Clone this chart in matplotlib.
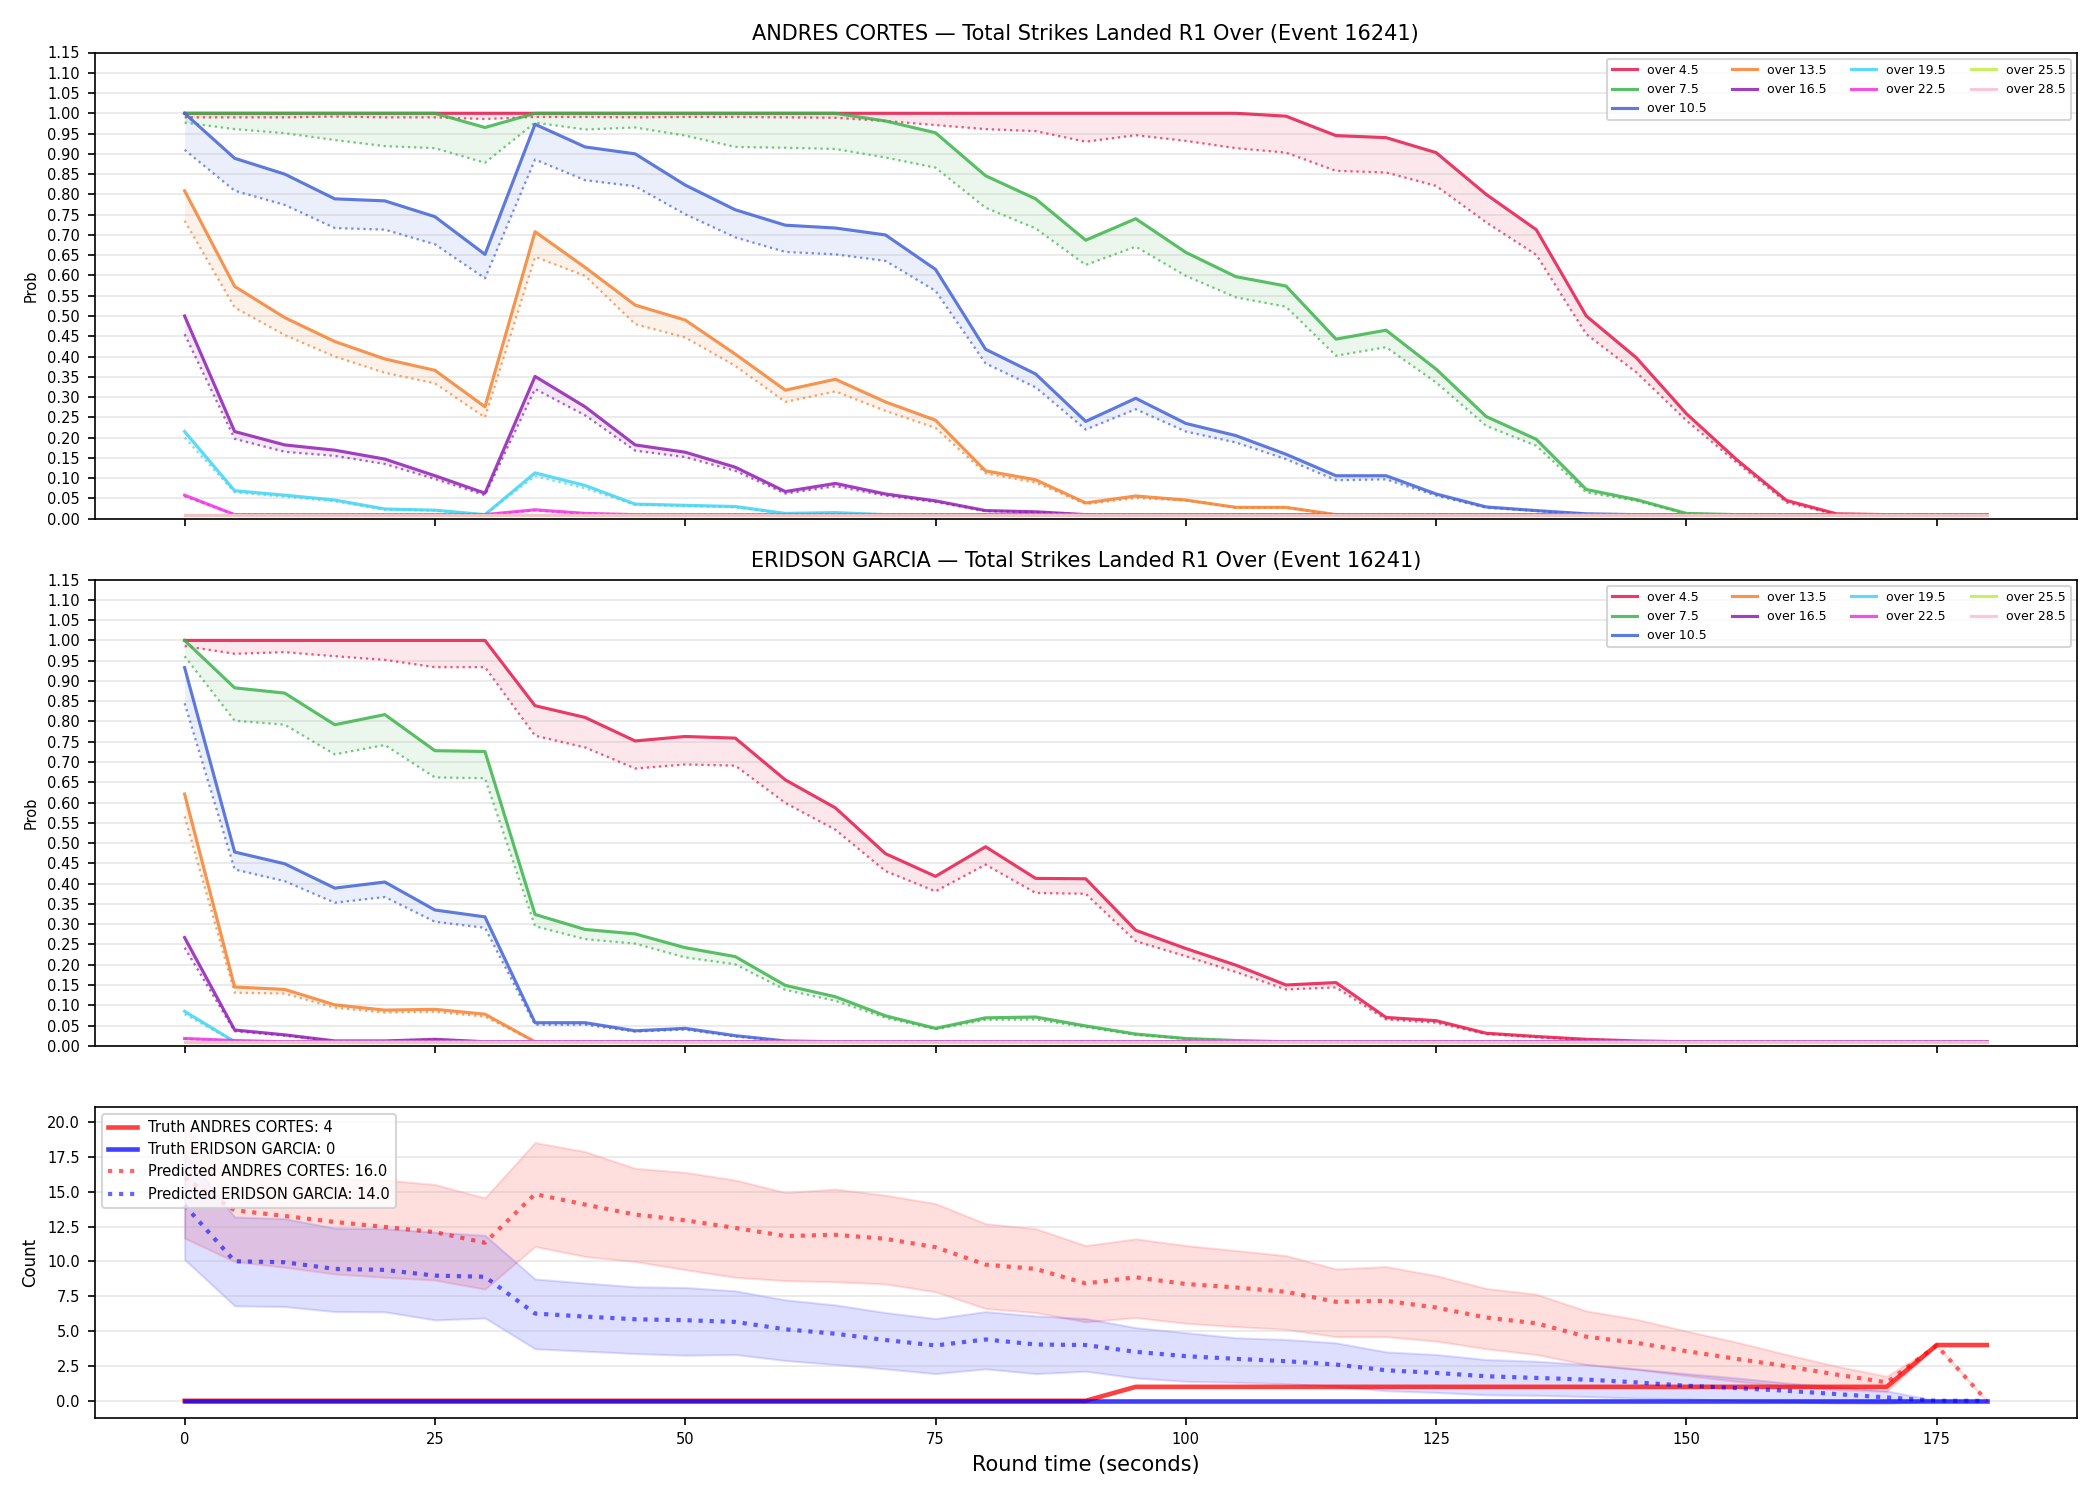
import matplotlib
matplotlib.use("Agg")
import matplotlib.pyplot as plt
import numpy as np

t = list(range(0, 185, 5))

lines = ["over 4.5", "over 7.5", "over 10.5", "over 13.5", "over 16.5",
         "over 19.5", "over 22.5", "over 25.5", "over 28.5"]
colors = ["#e6194b", "#3cb44b", "#4363d8", "#f58231", "#911eb4",
          "#42d4f4", "#f032e6", "#bfef45", "#fabed4"]

# ANDRES CORTES - market (solid) and model (dotted)
a_mkt = {
    "over 4.5": [1.0] * 22 + [0.993, 0.945, 0.94, 0.903, 0.80, 0.713, 0.50, 0.397, 0.259, 0.146, 0.045, 0.012, 0.01, 0.01, 0.01],
    "over 7.5": [1.0] * 6 + [0.965] + [1.0] * 7 + [0.981, 0.952, 0.846, 0.789, 0.687, 0.74, 0.657, 0.597, 0.574, 0.443, 0.465, 0.369, 0.252, 0.196, 0.072, 0.047, 0.013] + [0.01] * 6,
    "over 10.5": [1.0, 0.889, 0.85, 0.789, 0.784, 0.745, 0.652, 0.973, 0.917, 0.90, 0.823, 0.762, 0.724, 0.717, 0.70, 0.615, 0.418, 0.357, 0.24, 0.297, 0.235, 0.205, 0.159, 0.106, 0.106, 0.061, 0.029, 0.02, 0.012] + [0.01] * 8,
    "over 13.5": [0.809, 0.573, 0.496, 0.437, 0.394, 0.366, 0.276, 0.708, 0.62, 0.527, 0.49, 0.406, 0.317, 0.344, 0.288, 0.243, 0.118, 0.096, 0.039, 0.056, 0.046, 0.028, 0.028] + [0.01] * 14,
    "over 16.5": [0.50, 0.215, 0.182, 0.169, 0.147, 0.106, 0.063, 0.351, 0.276, 0.182, 0.164, 0.127, 0.067, 0.087, 0.061, 0.044, 0.02, 0.017] + [0.01] * 19,
    "over 19.5": [0.215, 0.069, 0.058, 0.046, 0.024, 0.021, 0.01, 0.113, 0.082, 0.036, 0.033, 0.03, 0.013, 0.015] + [0.01] * 23,
    "over 22.5": [0.058, 0.01, 0.01, 0.01, 0.01, 0.01, 0.01, 0.022, 0.013] + [0.01] * 28,
    "over 25.5": [0.01] * 37,
    "over 28.5": [0.01] * 37,
}
a_mod = {
    "over 4.5": [0.99, 0.99, 0.99, 0.992, 0.99, 0.99, 0.986, 0.991, 0.991, 0.99, 0.991, 0.991, 0.99, 0.989, 0.981, 0.971, 0.961, 0.956, 0.93, 0.946, 0.932, 0.914, 0.903, 0.858, 0.854, 0.821, 0.731, 0.651, 0.455, 0.361, 0.242, 0.139, 0.04, 0.01, 0.01, 0.01, 0.01],
    "over 7.5": [0.977, 0.961, 0.951, 0.934, 0.919, 0.914, 0.878, 0.977, 0.96, 0.965, 0.945, 0.917, 0.915, 0.912, 0.891, 0.866, 0.767, 0.716, 0.626, 0.671, 0.599, 0.546, 0.523, 0.402, 0.423, 0.336, 0.229, 0.18, 0.065, 0.044, 0.012] + [0.01] * 6,
    "over 10.5": [0.91, 0.809, 0.774, 0.717, 0.713, 0.677, 0.593, 0.886, 0.835, 0.82, 0.751, 0.694, 0.658, 0.652, 0.636, 0.562, 0.383, 0.324, 0.22, 0.27, 0.215, 0.188, 0.147, 0.095, 0.097, 0.057, 0.027, 0.019, 0.011] + [0.01] * 8,
    "over 13.5": [0.735, 0.521, 0.453, 0.40, 0.36, 0.334, 0.25, 0.646, 0.599, 0.48, 0.447, 0.377, 0.288, 0.314, 0.266, 0.224, 0.112, 0.089, 0.036, 0.051, 0.045, 0.027, 0.027] + [0.01] * 14,
    "over 16.5": [0.455, 0.197, 0.165, 0.155, 0.135, 0.098, 0.058, 0.32, 0.255, 0.168, 0.152, 0.118, 0.062, 0.08, 0.057, 0.041, 0.019, 0.016] + [0.01] * 19,
    "over 19.5": [0.20, 0.065, 0.054, 0.043, 0.022, 0.02, 0.01, 0.105, 0.075, 0.034, 0.031, 0.028, 0.012, 0.014] + [0.01] * 23,
    "over 22.5": [0.055, 0.01, 0.01, 0.01, 0.01, 0.01, 0.01, 0.02, 0.012] + [0.01] * 28,
    "over 25.5": [0.01] * 37,
    "over 28.5": [0.01] * 37,
}

# ERIDSON GARCIA
e_mkt = {
    "over 4.5": [1.0] * 7 + [0.839, 0.81, 0.752, 0.763, 0.759, 0.656, 0.587, 0.474, 0.418, 0.491, 0.413, 0.412, 0.285, 0.24, 0.199, 0.15, 0.156, 0.07, 0.062, 0.031, 0.023, 0.016, 0.012] + [0.01] * 7,
    "over 7.5": [1.0, 0.883, 0.87, 0.792, 0.817, 0.728, 0.726, 0.324, 0.287, 0.276, 0.242, 0.22, 0.149, 0.121, 0.074, 0.043, 0.069, 0.071, 0.049, 0.029, 0.018, 0.013] + [0.01] * 15,
    "over 10.5": [0.933, 0.478, 0.449, 0.389, 0.404, 0.335, 0.318, 0.057, 0.057, 0.037, 0.043, 0.025, 0.012] + [0.01] * 24,
    "over 13.5": [0.621, 0.145, 0.139, 0.101, 0.088, 0.09, 0.078] + [0.01] * 30,
    "over 16.5": [0.267, 0.039, 0.027, 0.012, 0.012, 0.016] + [0.01] * 31,
    "over 19.5": [0.085] + [0.01] * 36,
    "over 22.5": [0.018, 0.013] + [0.01] * 35,
    "over 25.5": [0.01] * 37,
    "over 28.5": [0.01] * 37,
}
e_mod = {
    "over 4.5": [0.986, 0.967, 0.971, 0.961, 0.952, 0.934, 0.934, 0.765, 0.736, 0.684, 0.694, 0.691, 0.599, 0.533, 0.431, 0.381, 0.447, 0.377, 0.375, 0.258, 0.221, 0.182, 0.139, 0.144, 0.065, 0.057, 0.029, 0.021, 0.014, 0.011] + [0.01] * 7,
    "over 7.5": [0.961, 0.802, 0.792, 0.719, 0.742, 0.662, 0.66, 0.295, 0.263, 0.252, 0.218, 0.201, 0.138, 0.111, 0.069, 0.041, 0.064, 0.065, 0.046, 0.027, 0.017, 0.012] + [0.01] * 15,
    "over 10.5": [0.845, 0.435, 0.406, 0.353, 0.367, 0.306, 0.291, 0.052, 0.052, 0.035, 0.04, 0.023, 0.011] + [0.01] * 24,
    "over 13.5": [0.566, 0.131, 0.129, 0.094, 0.082, 0.084, 0.072] + [0.01] * 30,
    "over 16.5": [0.242, 0.036, 0.025, 0.011, 0.011, 0.014] + [0.01] * 31,
    "over 19.5": [0.078] + [0.01] * 36,
    "over 22.5": [0.017, 0.012] + [0.01] * 35,
    "over 25.5": [0.01] * 37,
    "over 28.5": [0.01] * 37,
}

# bottom panel: truth and predicted counts
truth_a = [0] * 19 + [1] * 16 + [4, 4]
truth_e = [0] * 37
pred_a = [16.0, 13.67, 13.26, 12.83, 12.47, 12.1, 11.34, 14.83, 14.08, 13.36, 12.95, 12.4, 11.82, 11.91, 11.62, 11.02, 9.77, 9.46,
          8.42, 8.86, 8.38, 8.13, 7.82, 7.1, 7.17, 6.69, 5.97, 5.56, 4.6, 4.16, 3.56, 3.01, 2.48, 1.88, 1.32, 3.97, 0]
pred_a_hi = [19.6, 16.2, 16.08, 15.96, 15.84, 15.52, 14.56, 18.53, 17.88, 16.68, 16.39, 15.84, 14.95, 15.19, 14.75, 14.15, 12.71, 12.35,
             11.14, 11.62, 11.14, 10.78, 10.42, 9.46, 9.63, 8.98, 8.06, 7.65, 6.45, 5.85, 5.0, 4.21, 3.32, 2.48, 1.76, 3.97, 0]
pred_a_lo = [11.67, 9.99, 9.58, 9.1, 8.86, 8.66, 8.01, 11.07, 10.35, 9.99, 9.41, 8.86, 8.62, 8.54, 8.38, 7.82, 6.62, 6.33,
             5.66, 5.97, 5.56, 5.32, 5.13, 4.6, 4.6, 4.28, 3.73, 3.32, 2.6, 2.24, 1.81, 1.4, 1.03, 0.79, 0.67, 3.97, 0]
pred_e = [14.03, 10.01, 9.94, 9.46, 9.39, 8.98, 8.9, 6.26, 6.04, 5.85, 5.78, 5.66, 5.13, 4.81, 4.36, 3.97, 4.4, 4.04,
          4.0, 3.51, 3.2, 3.01, 2.84, 2.6, 2.19, 2.0, 1.76, 1.64, 1.52, 1.32, 1.08, 0.91, 0.72, 0.48, 0.24, 0, 0]
pred_e_hi = [17.76, 13.19, 13.07, 12.39, 12.35, 12.1, 11.87, 8.74, 8.45, 8.18, 8.13, 7.89, 7.24, 6.88, 6.33, 5.9, 6.4, 6.09,
             5.9, 5.25, 4.89, 4.52, 4.4, 4.16, 3.51, 3.32, 2.96, 2.84, 2.6, 2.29, 1.95, 1.64, 1.28, 0.99, 0.72, 0, 0]
pred_e_lo = [10.13, 6.81, 6.76, 6.4, 6.38, 5.8, 5.94, 3.73, 3.56, 3.39, 3.27, 3.32, 2.89, 2.6, 2.29, 1.95, 2.29, 1.95,
             2.12, 1.64, 1.4, 1.32, 1.23, 1.03, 0.72, 0.6, 0.43, 0.39, 0.31, 0.19, 0.14, 0, -0.05, -0.17, -0.2, 0, 0]


def prob_panel(ax, name, mkt, mod):
    for line, col in zip(lines, colors):
        ax.fill_between(t, mkt[line], mod[line], color=col, alpha=0.1, linewidth=0)
        ax.plot(t, mod[line], color=col, linestyle=':', linewidth=1.1, alpha=0.7)
        ax.plot(t, mkt[line], color=col, linewidth=1.5, alpha=0.85, label=line)
    ax.set_ylim(0, 1.15)
    ax.set_yticks(np.arange(0, 1.151, 0.05))
    ax.set_ylabel("Prob", fontsize=7)
    ax.set_title(f"{name} — Total Strikes Landed R1 Over (Event 16241)", fontsize=10)
    ax.grid(True, axis='y', alpha=0.3)
    ax.tick_params(labelsize=7)
    ax.legend(ncol=4, loc='upper right', fontsize=6)


fig, axes = plt.subplots(3, 1, figsize=(14, 10), sharex=True,
                         gridspec_kw={'height_ratios': [1.5, 1.5, 1]})
plt.subplots_adjust(left=0.045, right=0.989, top=0.965, bottom=0.055, hspace=0.147)

prob_panel(axes[0], "ANDRES CORTES", a_mkt, a_mod)
prob_panel(axes[1], "ERIDSON GARCIA", e_mkt, e_mod)

ax = axes[2]
ax.plot(t, truth_a, color='red', linewidth=2.2, alpha=0.75, label="Truth ANDRES CORTES: 4")
ax.plot(t, truth_e, color='blue', linewidth=2.2, alpha=0.75, label="Truth ERIDSON GARCIA: 0")
ax.plot(t, pred_a, color='red', linestyle=':', linewidth=2, alpha=0.6, label="Predicted ANDRES CORTES: 16.0")
ax.fill_between(t, pred_a_lo, pred_a_hi, color='red', alpha=0.13)
ax.plot(t, pred_e, color='blue', linestyle=':', linewidth=2, alpha=0.6, label="Predicted ERIDSON GARCIA: 14.0")
ax.fill_between(t, pred_e_lo, pred_e_hi, color='blue', alpha=0.13)
ax.set_ylim(-1.2, 21.1)
ax.set_xlim(-9, 189)
ax.set_ylabel("Count", fontsize=8)
ax.set_xlabel("Round time (seconds)", fontsize=10)
ax.grid(True, axis='y', alpha=0.3)
ax.tick_params(labelsize=7)
ax.legend(loc='upper left', fontsize=7)

plt.savefig("out.png", dpi=150)
